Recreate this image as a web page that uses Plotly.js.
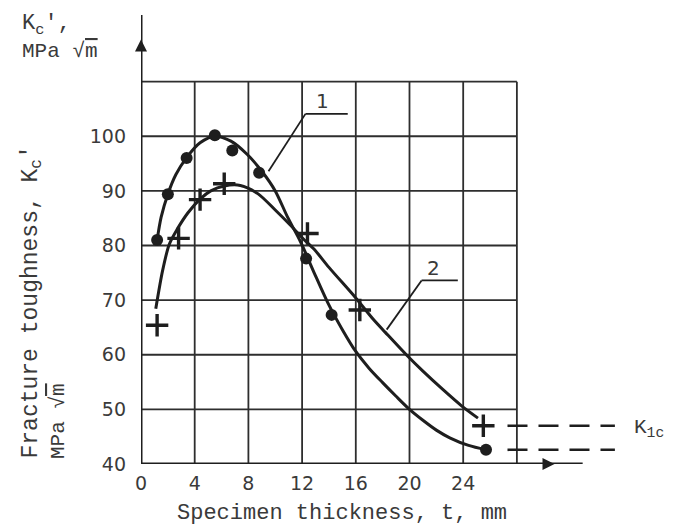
<!DOCTYPE html>
<html>
<head>
<meta charset="utf-8">
<script src="https://cdn.plot.ly/plotly-3.0.1.min.js"></script>
<style>
  html, body { margin: 0; padding: 0; background: #ffffff; }
  #chart { width: 677px; height: 528px; }
</style>
</head>
<body>
<div id="chart"></div>
<script>
// ---- data ----
// Series 1 (filled dots): specimen thickness t (mm) vs Kc' (MPa*sqrt(m))
var dotT = [1.2, 2.0, 3.4, 5.5, 6.8, 8.8, 12.3, 14.2, 25.7];
var dotK = [81.0, 89.4, 96.0, 100.2, 97.4, 93.3, 77.6, 67.3, 42.6];
// Series 2 (plus marks)
var plusT = [1.2, 2.8, 4.4, 6.2, 12.4, 16.3, 25.5];
var plusK = [65.4, 81.3, 88.4, 91.3, 82.2, 68.2, 47.0];
// Curve 1 (drawn through dots)
var curve1T = [1.2, 1.5, 2.0, 2.6, 3.4, 4.4, 5.5, 6.7, 7.9, 9.0, 10.0, 10.9, 11.9, 12.9, 13.9, 15.0, 16.0, 17.0, 18.0, 19.0, 20.0, 21.0, 22.0, 23.0, 24.4, 25.7];
var curve1K = [81.0, 85.2, 89.4, 93.0, 96.1, 98.8, 100.0, 99.1, 96.7, 93.6, 90.0, 85.3, 80.6, 75.0, 69.6, 64.6, 60.6, 57.5, 54.9, 52.4, 50.0, 48.0, 46.2, 44.8, 43.4, 42.6];
// Curve 2 (drawn through plus marks)
var curve2T = [1.1, 1.6, 2.1, 2.7, 3.5, 4.4, 5.2, 6.2, 7.4, 8.7, 10.0, 11.1, 12.1, 12.9, 14.0, 16.0, 17.3, 18.2, 19.8, 21.0, 22.5, 23.9, 25.1];
var curve2K = [68.4, 75.3, 80.2, 83.0, 86.0, 88.5, 90.0, 90.9, 91.0, 89.5, 86.5, 83.8, 81.2, 79.3, 76.0, 70.4, 66.5, 64.1, 59.9, 57.0, 53.6, 50.6, 48.4];
// Axis ticks
var xTicks = [0, 4, 8, 12, 16, 20, 24];
var yTicks = [40, 50, 60, 70, 80, 90, 100];
var gridX = [4, 8, 12, 16, 20, 24, 28];
var gridY = [50, 60, 70, 80, 90, 100, 110];

// ---- styling ----
var INK = '#1e1e1e';
var GRID = '#2e2e2e';
var TXT = '#3a3a3a';
var MONO = '"Liberation Mono", "DejaVu Sans Mono", monospace';
var SANS = '"DejaVu Sans", "Liberation Sans", sans-serif';

var X_MAX = 36.5, Y_MAX = 122.2;
var L = 141, R = 46, T = 15, B = 64;
var W = 677, H = 528;
var pw = W - L - R, ph = H - T - B;
function px2paperX(p) { return (p - L) / pw; }
function px2paperY(p) { return (H - B - p) / ph; }

var shapes = [];
gridX.forEach(function (g) {
  shapes.push({type: 'line', xref: 'x', yref: 'y', x0: g, x1: g, y0: 40, y1: 110,
    line: {color: GRID, width: 1.8}, layer: 'below'});
});
gridY.forEach(function (g) {
  shapes.push({type: 'line', xref: 'x', yref: 'y', x0: 0, x1: 28, y0: g, y1: g,
    line: {color: GRID, width: 1.8}, layer: 'below'});
});
// axes (with extension beyond the grid)
shapes.push({type: 'line', xref: 'x', yref: 'y', x0: 0, x1: 0, y0: 40, y1: Y_MAX,
  line: {color: INK, width: 3}});
shapes.push({type: 'line', xref: 'x', yref: 'y', x0: 0, x1: 32.9, y0: 40, y1: 40,
  line: {color: INK, width: 3}});
// K1c dashed levels
var kIc = [plusK[plusK.length - 1], dotK[dotK.length - 1]];
kIc.forEach(function (k) {
  shapes.push({type: 'line', xref: 'x', yref: 'y', x0: 27.3, x1: 35.3, y0: k, y1: k,
    line: {color: INK, width: 2.6, dash: '20px,11px'}});
});
// leader lines for curve labels
shapes.push({type: 'line', xref: 'x', yref: 'y', x0: 12.25, x1: 15.4, y0: 104.1, y1: 104.1, line: {color: INK, width: 1.8}});
shapes.push({type: 'line', xref: 'x', yref: 'y', x0: 12.25, x1: 9.5, y0: 104.1, y1: 93.6, line: {color: INK, width: 1.8}});
shapes.push({type: 'line', xref: 'x', yref: 'y', x0: 20.9, x1: 23.6, y0: 73.6, y1: 73.6, line: {color: INK, width: 1.8}});
shapes.push({type: 'line', xref: 'x', yref: 'y', x0: 20.9, x1: 18.3, y0: 73.6, y1: 64.6, line: {color: INK, width: 1.8}});

var traces = [
  {x: curve1T, y: curve1K, mode: 'lines', line: {color: INK, width: 3, shape: 'spline', smoothing: 0.8}, hoverinfo: 'skip'},
  {x: curve2T, y: curve2K, mode: 'lines', line: {color: INK, width: 3, shape: 'spline', smoothing: 0.8}, hoverinfo: 'skip'},
  {x: dotT, y: dotK, mode: 'markers', marker: {symbol: 'circle', size: 12, color: INK}},
  {x: plusT, y: plusK, mode: 'markers', marker: {symbol: 'cross-thin', size: 16, color: INK, line: {color: INK, width: 3.4}}},
  // axis arrowheads
  {x: [0], y: [117.7], mode: 'markers', marker: {symbol: 'arrow-up', size: 12, color: INK}, cliponaxis: false},
  {x: [30.8], y: [40], mode: 'markers', marker: {symbol: 'arrow-right', size: 12, color: INK}, cliponaxis: false}
];

var annotations = [
  {xref: 'x', yref: 'y', x: 13.55, y: 106.4, text: '1', showarrow: false, font: {family: SANS, size: 20, color: TXT}},
  {xref: 'x', yref: 'y', x: 21.76, y: 75.9, text: '2', showarrow: false, font: {family: SANS, size: 20, color: TXT}},
  {xref: 'paper', yref: 'paper', x: px2paperX(632), y: px2paperY(428), xanchor: 'left', yanchor: 'middle',
    text: 'K<sub>1c</sub>', showarrow: false, font: {family: MONO, size: 21, color: TXT}},
  {xref: 'paper', yref: 'paper', x: px2paperX(20), y: px2paperY(25), xanchor: 'left', yanchor: 'middle',
    text: "K<sub>c</sub>',", showarrow: false, font: {family: MONO, size: 22, color: TXT}},
  {xref: 'paper', yref: 'paper', x: px2paperX(20), y: px2paperY(51), xanchor: 'left', yanchor: 'middle',
    text: "MPa \u221A<span style='text-decoration:overline'>m</span>", showarrow: false, font: {family: MONO, size: 21, color: TXT}},
  {xref: 'paper', yref: 'paper', x: px2paperX(32), y: px2paperY(461), xanchor: 'center', yanchor: 'bottom', textangle: -90,
    text: "Fracture toughness, K<sub>c</sub>'", showarrow: false, font: {family: MONO, size: 23, color: TXT}},
  {xref: 'paper', yref: 'paper', x: px2paperX(58), y: px2paperY(461), xanchor: 'center', yanchor: 'bottom', textangle: -90,
    text: "MPa \u221A<span style='text-decoration:overline'>m</span>", showarrow: false, font: {family: MONO, size: 21, color: TXT}},
  {xref: 'paper', yref: 'paper', x: px2paperX(342), y: px2paperY(513), xanchor: 'center', yanchor: 'middle',
    text: 'Specimen thickness, t, mm', showarrow: false, font: {family: MONO, size: 22, color: TXT}}
];

var layout = {
  width: W, height: H,
  margin: {l: L, r: R, t: T, b: B, pad: 0},
  paper_bgcolor: '#ffffff', plot_bgcolor: '#ffffff',
  showlegend: false,
  xaxis: {range: [0, X_MAX], showgrid: false, zeroline: false, showline: false,
    tickmode: 'array', tickvals: xTicks, ticktext: xTicks.map(String), ticks: '',
    ticklabelstandoff: 6, tickfont: {family: SANS, size: 19, color: TXT}, fixedrange: true},
  yaxis: {range: [40, Y_MAX], showgrid: false, zeroline: false, showline: false,
    tickmode: 'array', tickvals: yTicks, ticktext: yTicks.map(String), ticks: '',
    ticklabelstandoff: 14, tickfont: {family: SANS, size: 19, color: TXT}, fixedrange: true},
  shapes: shapes,
  annotations: annotations
};

Plotly.newPlot('chart', traces, layout, {displayModeBar: false, staticPlot: true});
</script>
</body>
</html>
